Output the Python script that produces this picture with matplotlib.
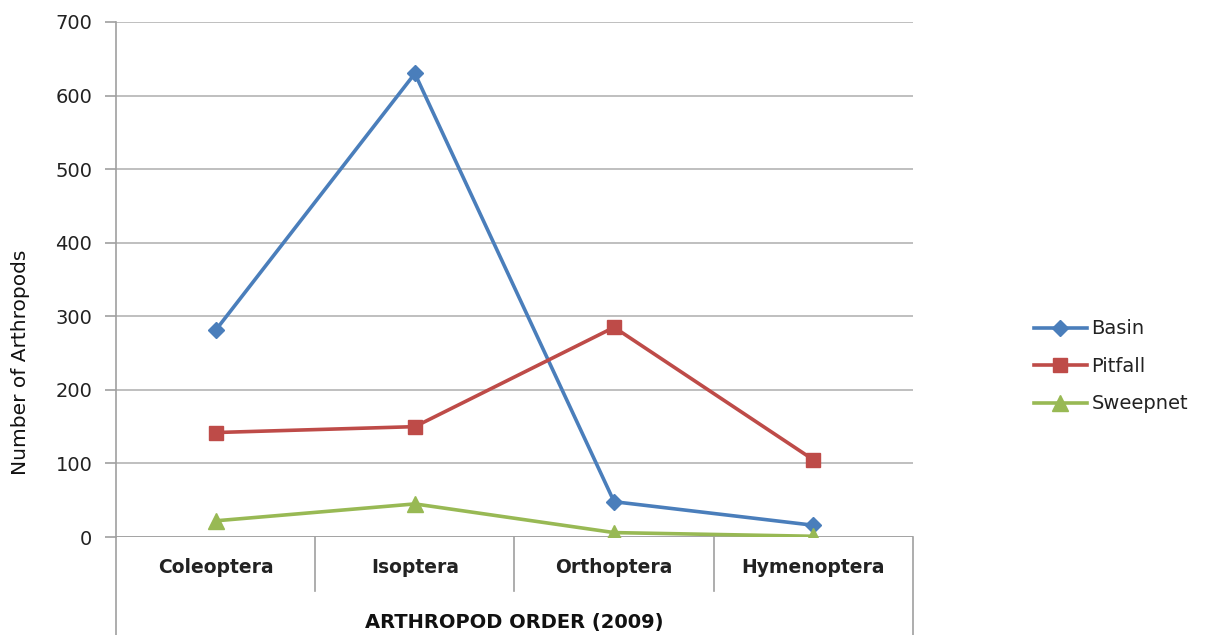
import matplotlib.pyplot as plt
from matplotlib.lines import Line2D
from matplotlib import font_manager

orders = ["Coleoptera", "Isoptera", "Orthoptera", "Hymenoptera"]
basin = [281, 630, 48, 16]
pitfall = [142, 150, 285, 105]
sweepnet = [22, 45, 6, 1]

names = {f.name for f in font_manager.fontManager.ttflist}
narrow = "Liberation Sans Narrow" if "Liberation Sans Narrow" in names else "DejaVu Sans"

plt.rcParams["font.family"] = ["DejaVu Sans"]
fig = plt.figure(figsize=(12.06, 6.35), dpi=100)
ax = fig.add_axes([0.0962, 0.1543, 0.6608, 0.8111])

x = range(len(orders))
ax.plot(x, basin, color="#4a7ebb", lw=2.6, marker="D", ms=8.5, label="Basin", zorder=3)
ax.plot(x, pitfall, color="#be4b48", lw=2.6, marker="s", ms=10.5, label="Pitfall", zorder=3)
ax.plot(x, sweepnet, color="#98b954", lw=2.6, marker="^", ms=11.5, label="Sweepnet", zorder=3)

ax.set_xlim(-0.5, 3.5)
ax.set_ylim(0, 700)
ax.set_yticks(range(0, 701, 100))
ax.yaxis.grid(True, color="#b4b4b4", lw=1.2)
ax.set_axisbelow(True)
for s in ["top", "right", "bottom"]:
    ax.spines[s].set_visible(False)
ax.spines["left"].set_color("#a0a0a0")
ax.spines["left"].set_linewidth(1.2)
ax.axhline(0, color="#a0a0a0", lw=1.2, zorder=2)
ax.tick_params(axis="y", length=8, width=1.2, color="#a0a0a0", labelsize=14,
               labelcolor="#222222", pad=9)
ax.tick_params(axis="x", length=0, labelbottom=False)

# category labels and separators below the axis
xt = ax.get_xaxis_transform()
for i, name in enumerate(orders):
    ax.text(i, -0.06, name, transform=xt, ha="center", va="center",
            fontsize=13.5, fontweight="bold", color="#222222")
for i in range(1, len(orders)):
    ax.add_line(Line2D([i - 0.5, i - 0.5], [0, -0.105], color="#a0a0a0", lw=1.2,
                       transform=xt, clip_on=False))
# outer frame of the category table
for xv in (-0.5, 3.5):
    ax.add_line(Line2D([xv, xv], [0, -0.2], color="#a0a0a0", lw=1.2,
                       transform=xt, clip_on=False))

ax.text(1.5, -0.165, "ARTHROPOD ORDER (2009)", transform=xt,
        ha="center", va="center", fontsize=14, fontweight="bold", color="#111111")

fig.text(0.017, 0.43, "Number of Arthropods", rotation=90, ha="center", va="center",
         fontsize=15 if narrow != "DejaVu Sans" else 14.5, color="#111111", family=[narrow, "DejaVu Sans"])

leg = ax.legend(loc="center left", bbox_to_anchor=(0.843, 0.423), bbox_transform=fig.transFigure,
                frameon=False, handlelength=2.7, labelspacing=0.95, handletextpad=0.25,
                prop={"size": 14})
for t in leg.get_texts():
    t.set_color("#222222")

fig.savefig("out.png", dpi=100)
